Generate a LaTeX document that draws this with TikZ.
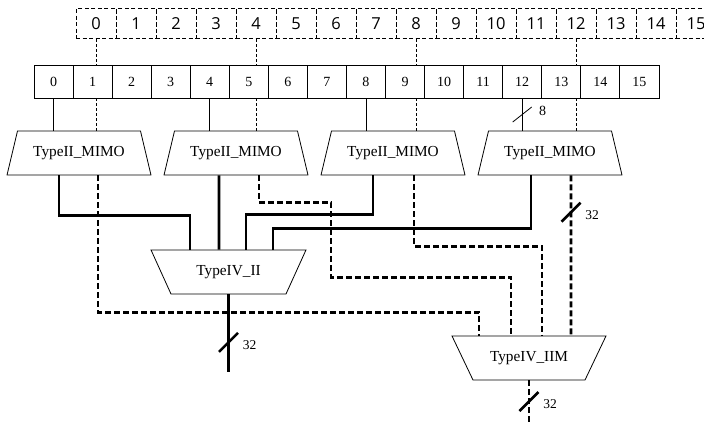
\documentclass[tikz,border=0pt]{standalone}
\usepackage{fontspec}
\setmainfont{Liberation Serif}
\newfontfamily\digitfont{Open Sans}
\usetikzlibrary{shapes.geometric}

\tikzset{
  slot/.style={draw,dash pattern=on 4pt off 2.5pt,line width=0.8pt,
    minimum width=40pt,minimum height=30pt,inner sep=0pt,
    font=\digitfont\fontsize{16.5}{18}\selectfont},
  cell/.style={draw,line width=0.8pt,minimum width=39.06pt,minimum height=33pt,
    inner sep=0pt,font=\fontsize{14}{16}\selectfont},
  mimo/.style={draw,line width=0.8pt,trapezium,trapezium angle=76.6,
    text width=123pt,align=center,text height=10pt,text depth=3pt,
    inner xsep=0pt,inner ysep=15.5pt,font=\fontsize{15.3}{17}\selectfont},
  merge/.style={draw,line width=0.8pt,trapezium,shape border rotate=180,
    trapezium angle=65.6,text width=115pt,align=center,text height=10pt,
    text depth=3pt,inner xsep=0pt,inner ysep=15.5pt,
    font=\fontsize{15.3}{17}\selectfont},
  wire/.style={line width=0.8pt},
  dwire/.style={line width=0.8pt,dash pattern=on 3pt off 2pt},
  bus/.style={line width=2.6pt},
  dbus/.style={line width=2.6pt,dash pattern=on 6pt off 3pt},
  buscut/.pic={
    \draw[solid,line width=2.6pt] (-9.5,9.5) -- (9.5,-9.5);
    \node[font=\fontsize{13.5}{16}\selectfont] at (21,3) {\tikzpictext};
  },
  wirecut/.pic={
    \draw[solid,line width=0.8pt] (-9.5,7.5) -- (9.5,-7.5);
    \node[font=\fontsize{14}{16}\selectfont] at (20.5,-3.5) {\tikzpictext};
  },
}

\begin{document}
\begin{tikzpicture}[x=1pt,y=-1pt]
  \useasboundingbox (0,0) rectangle (704,424);

  % input slots and register cells
  \foreach \i in {0,...,15} {
    \node[slot] (t\i) at (96+40*\i,23.5) {\i};
    \node[cell] (b\i) at (53.5+39.06*\i,81.5) {\i};
  }

  % first stage
  \node[mimo] (m1) at (79,153) {TypeII\_MIMO};
  \node[mimo] (m2) at (236,153) {TypeII\_MIMO};
  \node[mimo] (m3) at (393,153) {TypeII\_MIMO};
  \node[mimo] (m4) at (550,153) {TypeII\_MIMO};

  % second stage
  \node[merge] (p) at (228.5,272) {TypeIV\_II};
  \node[merge,text width=112pt,trapezium angle=64.5] (q) at (529,358) {TypeIV\_IIM};

  % register cells into the first stage
  \draw[wire] (b0.south) -- (b0.south |- m1.north);
  \draw[wire] (b4.south) -- (b4.south |- m2.north);
  \draw[wire] (b8.south) -- (b8.south |- m3.north);
  \draw[wire] (b12.south) -- (b12.south |- m4.north)
    pic[pos=0.5,pic text=8] {wirecut};

  % slots into the first stage
  \foreach \i/\m in {0/1,4/2,8/3,12/4} {
    \draw[dwire] (t\i.south) -- (t\i.south |- b0.north);
    \draw[dwire] (t\i.south |- b0.south) -- (t\i.south |- m\m.north);
  }

  % solid buses into TypeIV_II
  \draw[bus] ([xshift=-20pt]m1.south) -- ++(0,40) -| ([xshift=-38.5pt]p.north);
  \draw[bus] ([xshift=-17pt]m2.south) -- ([xshift=-9.5pt]p.north);
  \draw[bus] ([xshift=-20pt]m3.south) -- ++(0,39) -| ([xshift=17.5pt]p.north);
  \draw[bus] ([xshift=-19pt]m4.south) -- ++(0,53) -| ([xshift=44.5pt]p.north);

  % dashed buses into TypeIV_IIM
  \draw[dbus] ([xshift=19pt]m1.south) -- ++(0,137) -| ([xshift=-50pt]q.north);
  \draw[dbus] ([xshift=23pt]m2.south) -- ++(0,27) -- ++(72,0) -- ++(0,75)
    -| ([xshift=-18pt]q.north);
  \draw[dbus] ([xshift=21pt]m3.south) -- ++(0,71) -| ([xshift=13pt]q.north);
  \draw[dbus] ([xshift=21pt]m4.south) -- ([xshift=42pt]q.north)
    pic[pos=0.23,pic text=32] {buscut};

  % outputs
  \draw[bus] (p.south) -- ++(0,78) coordinate (pout)
    pic[pos=0.615,pic text=32] {buscut};
  \draw[dbus] (q.south) -- ++(0,44) coordinate (qout)
    pic[pos=0.48,pic text=32] {buscut};
\end{tikzpicture}
\end{document}
